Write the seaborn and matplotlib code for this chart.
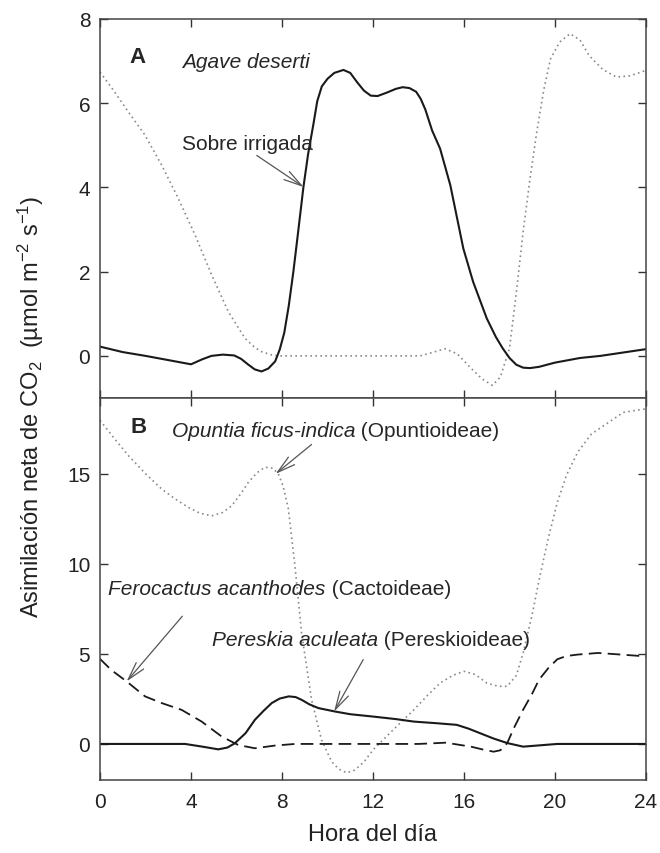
import numpy as np
import pandas as pd
import matplotlib
matplotlib.use("Agg")
import matplotlib.pyplot as plt
import seaborn as sns

# --- panel A: Agave deserti ---
hora_riego = [0, 1, 2, 3, 4, 4.5, 4.9, 5.4, 5.9, 6.2, 6.5, 6.8, 7.1, 7.4, 7.7, 7.9, 8.1, 8.3, 8.5,
              8.7, 8.94, 9.15, 9.38, 9.55, 9.75, 10.0, 10.3, 10.7, 11.0, 11.3, 11.6, 11.9, 12.2,
              12.6, 13.0, 13.3, 13.6, 13.9, 14.1, 14.3, 14.6, 14.95, 15.4, 15.97, 16.4, 17.0, 17.4,
              17.7, 18.0, 18.3, 18.6, 18.9, 19.3, 20.0, 21.1, 22.0, 23.0, 24.0]
agave_riego = [0.22, 0.09, 0.0, -0.1, -0.2, -0.08, 0.0, 0.03, 0.01, -0.07, -0.2, -0.32, -0.37, -0.3,
               -0.13, 0.15, 0.55, 1.2, 2.0, 2.9, 4.0, 4.8, 5.5, 6.05, 6.4, 6.58, 6.72, 6.79, 6.72,
               6.5, 6.3, 6.18, 6.17, 6.25, 6.34, 6.38, 6.36, 6.27, 6.1, 5.85, 5.35, 4.92, 4.05, 2.55,
               1.76, 0.89, 0.45, 0.18, -0.05, -0.21, -0.28, -0.29, -0.26, -0.16, -0.05, 0.0, 0.08,
               0.16]

hora_seco = [0, 0.6, 1.25, 1.98, 2.71, 3.44, 4.18, 4.91, 5.64, 6.37, 6.8, 7.1, 7.5, 7.84, 10, 12,
             14.07, 14.6, 15.16, 15.7, 16.3, 16.8, 17.25, 17.6, 18.0, 18.3, 18.6, 18.9, 19.2, 19.5,
             19.8, 20.2, 20.66, 21.1, 21.5, 22.1, 22.7, 23.3, 24.0]
agave_seco = [6.74, 6.3, 5.79, 5.24, 4.53, 3.74, 2.87, 1.92, 1.05, 0.42, 0.2, 0.10, 0.03, 0.0, 0.0,
              0.0, 0.0, 0.08, 0.17, 0.05, -0.29, -0.55, -0.70, -0.5, 0.18, 1.5, 2.95, 4.2, 5.32,
              6.3, 7.05, 7.45, 7.65, 7.5, 7.13, 6.8, 6.62, 6.65, 6.78]

# --- panel B: cactaceas ---
hora_opuntia = [0, 0.6, 1.25, 2.0, 2.71, 3.3, 3.88, 4.4, 4.91, 5.4, 5.79, 6.2, 6.52, 6.9, 7.25, 7.6,
                7.84, 8.05, 8.28, 8.57, 8.86, 9.3, 9.74, 10.18, 10.5, 10.85, 11.2, 11.6, 12.0, 12.9,
                13.8, 14.4, 14.95, 15.5, 16.0, 16.5, 17.0, 17.5, 17.9, 18.3, 18.6, 19.0, 19.3, 19.7,
                20.1, 20.5, 21.0, 21.6, 22.3, 23.0, 24.0]
opuntia = [17.96, 17.0, 16.0, 15.0, 14.15, 13.6, 13.13, 12.8, 12.66, 12.85, 13.22, 13.9, 14.52,
           15.05, 15.36, 15.3, 14.99, 14.3, 13.04, 9.88, 6.17, 2.45, 0.22, -0.98, -1.4, -1.6, -1.45,
           -1.0, -0.33, 0.8, 1.9, 2.7, 3.38, 3.8, 4.03, 3.85, 3.38, 3.2, 3.2, 3.8, 5.05, 7.2, 9.1,
           11.4, 13.4, 14.9, 16.2, 17.2, 17.8, 18.4, 18.6]

hora_ferocactus = [0, 0.5, 1.17, 1.98, 2.71, 3.59, 4.47, 5.35, 6.08, 6.81, 7.69, 8.57, 10, 12, 14,
                   15.2, 16.3, 16.8, 17.3, 17.6, 17.9, 18.2, 18.6, 19.0, 19.3, 19.7, 20.1, 20.5,
                   21.0, 21.9, 23.0, 24.0]
ferocactus = [4.72, 4.1, 3.47, 2.64, 2.27, 1.89, 1.24, 0.41, -0.06, -0.24, -0.09, 0.0, 0.0, 0.0, 0.0,
              0.07, -0.15, -0.3, -0.43, -0.35, 0.05, 0.9, 1.9, 2.8, 3.57, 4.2, 4.7, 4.88, 4.96, 5.05,
              4.95, 4.86]

hora_pereskia = [0, 2, 3.74, 4.5, 5.2, 5.6, 5.93, 6.4, 6.81, 7.2, 7.55, 7.9, 8.3, 8.6, 8.86, 9.2, 9.6,
                 10.33, 11.0, 12.0, 13.0, 13.8, 14.8, 15.68, 16.2, 16.7, 17.3, 17.9, 18.6, 19.3,
                 20.1, 22, 24]
pereskia = [0, 0, 0, -0.15, -0.3, -0.2, 0.04, 0.6, 1.34, 1.85, 2.27, 2.52, 2.64, 2.6, 2.45, 2.2,
            1.99, 1.8, 1.65, 1.52, 1.38, 1.24, 1.15, 1.06, 0.85, 0.6, 0.3, 0.05, -0.15, -0.08, 0.0,
            0.0, 0.0]

x_ticks = [0, 4, 8, 12, 16, 20, 24]
yticks_a = [0, 2, 4, 6, 8]
yticks_b = [0, 5, 10, 15]

sns.set_style("ticks")
plt.rcParams['font.family'] = ['Liberation Sans', 'DejaVu Sans']
plt.rcParams['mathtext.fontset'] = 'custom'
plt.rcParams['mathtext.rm'] = 'Liberation Sans'
plt.rcParams['mathtext.it'] = 'Liberation Sans:italic'

fig = plt.figure(figsize=(6.6, 8.54), dpi=100)
ax1 = fig.add_axes([0.1515, 0.5328, 0.8273, 0.4438])
ax2 = fig.add_axes([0.1515, 0.0855, 0.8273, 0.4473])

solid = dict(color='#1a1a1a', lw=1.5)
dotted = dict(color='#8a8a8a', lw=1.2, linestyle=(0, (1, 2)))
dashed = dict(color='#1a1a1a', lw=1.3, linestyle=(0, (7, 3.5)))

sns.lineplot(x=hora_seco, y=agave_seco, ax=ax1, **dotted)
sns.lineplot(x=hora_riego, y=agave_riego, ax=ax1, **solid)

sns.lineplot(x=hora_opuntia, y=opuntia, ax=ax2, **dotted)
sns.lineplot(x=hora_ferocactus, y=ferocactus, ax=ax2, **dashed)
sns.lineplot(x=hora_pereskia, y=pereskia, ax=ax2, **solid)

for ax in (ax1, ax2):
    ax.set_xlim(0, 24)
    ax.set_xticks(x_ticks)
    ax.tick_params(direction='in', top=True, right=True, length=6, width=1,
                   colors='#333333', labelsize=15, labelcolor='#222222')
    ax.tick_params(axis='x', pad=9)
    ax.tick_params(axis='y', pad=7)
    for s in ax.spines.values():
        s.set_color('#444444')
        s.set_linewidth(1.1)
    ax.set_xlabel('')
    ax.set_ylabel('')

ax1.set_ylim(-1, 8)
ax1.set_yticks(yticks_a)
ax1.tick_params(axis='x', labelbottom=False)
ax2.set_ylim(-2, 19.2)
ax2.set_yticks(yticks_b)

arrow = dict(arrowstyle='->,head_length=1.3,head_width=0.35', color='#555555', lw=0.9,
             shrinkA=0, shrinkB=0)
fs = 15

ax1.text(1.63, 7.1, 'A', fontsize=16, fontweight='bold', ha='center', va='center')
ax1.text(3.6, 7.0, 'Agave deserti', fontsize=fs, style='italic', ha='left', va='center')
ax1.text(3.6, 5.04, 'Sobre irrigada', fontsize=fs, ha='left', va='center')
ax1.annotate('', xy=(8.95, 4.01), xytext=(6.89, 4.76), arrowprops=arrow)

ax2.text(1.68, 17.6, 'B', fontsize=16, fontweight='bold', ha='center', va='center')


def etiqueta(x, y, especie, familia):
    t = ax2.text(x, y, especie, fontsize=fs, style='italic', ha='left', va='center')
    ax2.annotate(' ' + familia, xy=(1, 0.5), xycoords=t, fontsize=fs, ha='left', va='center')


etiqueta(3.15, 17.4, 'Opuntia ficus-indica', '(Opuntioideae)')
etiqueta(0.37, 8.6, 'Ferocactus acanthodes', '(Cactoideae)')
etiqueta(4.91, 5.79, 'Pereskia aculeata', '(Pereskioideae)')

ax2.annotate('', xy=(7.72, 14.99), xytext=(9.3, 16.62), arrowprops=arrow)
ax2.annotate('', xy=(1.17, 3.47), xytext=(3.62, 7.09), arrowprops=arrow)
ax2.annotate('', xy=(10.29, 1.8), xytext=(11.57, 4.68), arrowprops=arrow)

fig.text(0.047, 0.523, r'Asimilación neta de CO$_2$  (µmol m$^{-2}$ s$^{-1}$)',
         rotation=90, fontsize=17, ha='center', va='center', color='#222222')
fig.text(0.565, 0.022, 'Hora del día', fontsize=17, ha='center', va='center', color='#222222')

fig.savefig('out.png', dpi=100)
